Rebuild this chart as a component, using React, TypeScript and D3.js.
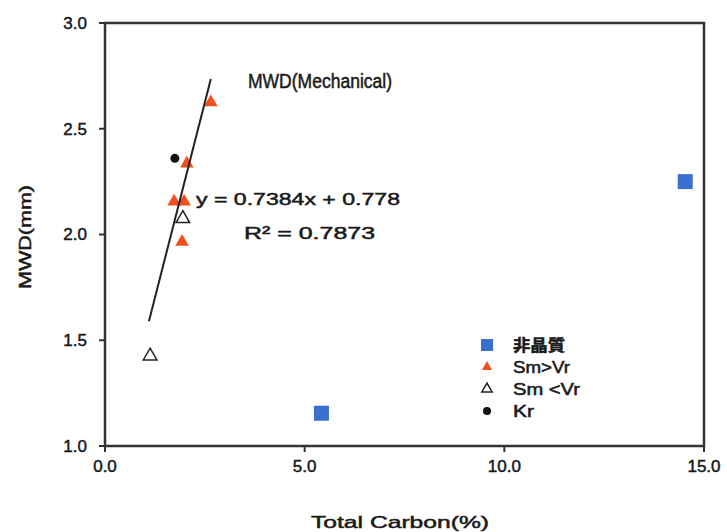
import React from 'react'
import * as d3 from 'd3'

// series: [Total Carbon %, MWD mm]
const amorphous: [number, number][] = [[5.42, 1.155], [14.53, 2.25]]
const smGtVr: [number, number][] = [[2.65, 2.63], [2.05, 2.34], [1.73, 2.16], [1.98, 2.16], [1.93, 1.97]]
const smLtVr: [number, number][] = [[1.95, 2.08], [1.13, 1.43]]
const kr: [number, number][] = [[1.75, 2.36]]

const xTicks = [0, 5, 10, 15]
const yTicks = [1.0, 1.5, 2.0, 2.5, 3.0]

const slope = 0.7384
const intercept = 0.778
const fitRange = [1.1, 2.65]

const legendItems = ['非晶質', 'Sm>Vr', 'Sm <Vr', 'Kr']
const legendWidths = [52, 57, 67, 21]

function App() {
  const width = 727
  const height = 532
  const font = '"Liberation Sans", Arial, sans-serif'

  const x = d3.scaleLinear().domain([0, 15]).range([105, 704])
  const y = d3.scaleLinear().domain([1, 3]).range([446, 23])

  const tri = d3.symbol(d3.symbolTriangle, 80)()
  const triSmall = d3.symbol(d3.symbolTriangle, 45)()

  const fitLine = d3.line<number>()
    .x(d => x(d))
    .y(d => y(slope * d + intercept))

  const orange = '#f0501e'
  const blue = '#3a6fd0'
  // the scanned original has heavy, slightly smeared glyphs
  const ink = { fill: '#1a1a1a', stroke: '#1a1a1a', strokeWidth: 0.5 }

  return (
    <svg width={width} height={height} style={{ position: 'absolute', left: 0, top: 0, background: '#fff' }} fontFamily={font}>
      {/* plot box */}
      <rect x={x(0)} y={y(3)} width={x(15) - x(0)} height={y(1) - y(3)} fill="none" stroke="#333" strokeWidth={2.5} />

      {/* y axis ticks */}
      {yTicks.map(t => <g key={t} transform={`translate(${x(0)} ${y(t)})`}>
        <line x1={-6} x2={0} stroke="#333" strokeWidth={2} />
        <text x={-18} dy="0.35em" textAnchor="end" fontSize={17} {...ink}>{t.toFixed(1)}</text>
      </g>)}

      {/* x axis ticks */}
      {xTicks.map(t => <g key={t} transform={`translate(${x(t)} ${y(1)})`}>
        <line y1={0} y2={6} stroke="#333" strokeWidth={2} />
        <text y={26} textAnchor="middle" fontSize={17} {...ink}>{t.toFixed(1)}</text>
      </g>)}

      <text x={400} y={528} textAnchor="middle" fontSize={17} textLength={178} lengthAdjust="spacingAndGlyphs" {...ink}>Total Carbon(%)</text>
      <text transform="translate(31 237) rotate(-90)" textAnchor="middle" fontSize={16} textLength={104} lengthAdjust="spacingAndGlyphs" {...ink}>MWD(mm)</text>

      {/* points */}
      {amorphous.map(([a, b], i) => <rect key={i} x={x(a) - 7.5} y={y(b) - 7.5} width={15} height={15} fill={blue} />)}
      {smGtVr.map(([a, b], i) => <path key={i} d={tri!} transform={`translate(${x(a)} ${y(b) + 1})`} fill={orange} />)}
      {smLtVr.map(([a, b], i) => <path key={i} d={tri!} transform={`translate(${x(a)} ${y(b) + 1})`} fill="#fff" stroke="#222" strokeWidth={1.5} />)}
      {kr.map(([a, b], i) => <circle key={i} cx={x(a)} cy={y(b)} r={4.5} fill="#111" />)}

      {/* regression line */}
      <path d={fitLine(fitRange)!} fill="none" stroke="#222" strokeWidth={2} />

      <text x={248} y={88} fontSize={20} textLength={144} lengthAdjust="spacingAndGlyphs" {...ink}>MWD(Mechanical)</text>
      <text x={196} y={205} fontSize={17} textLength={204} lengthAdjust="spacingAndGlyphs" {...ink}>y = 0.7384x + 0.778</text>
      <text x={244} y={239} fontSize={17} textLength={131} lengthAdjust="spacingAndGlyphs" {...ink}>R² = 0.7873</text>

      {/* legend */}
      {legendItems.map((name, i) => {
        const ly = 345 + i * 22
        return <g key={name} transform={`translate(487 ${ly})`}>
          {i === 0 && <rect x={-6} y={-6} width={12} height={12} fill={blue} />}
          {i === 1 && <path d={triSmall!} fill={orange} />}
          {i === 2 && <path d={triSmall!} fill="#fff" stroke="#222" strokeWidth={1.5} />}
          {i === 3 && <circle r={4} fill="#111" />}
          <text x={26} dy="0.35em" fontSize={16} fontWeight={i === 0 ? 'bold' : 'normal'}
            textLength={legendWidths[i]} lengthAdjust="spacingAndGlyphs" {...ink}
            fontFamily={i === 0 ? '"Noto Sans CJK JP", sans-serif' : font}>{name}</text>
        </g>
      })}
    </svg>
  )
}

export default App
